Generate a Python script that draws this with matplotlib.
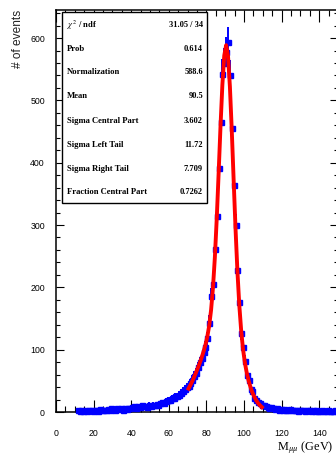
import numpy as np
import matplotlib
matplotlib.use("Agg")
import matplotlib.pyplot as plt
from matplotlib.patches import Rectangle

# ---- data ----
bin_width = 1.0
first_bin_center = 11.5
counts = [3, 2, 4, 2, 3, 1, 3, 4, 2,
          3, 4, 2, 5, 3, 4, 3, 5, 4, 6,
          5, 4, 6, 5, 7, 4, 6, 5, 7, 6,
          8, 10, 7, 9, 8, 11, 9, 10, 8, 12,
          10, 12, 11, 13, 12, 14, 16, 15, 18, 20,
          20, 23, 22, 26, 25, 28, 31, 34, 37, 40,
          41, 46, 52, 58, 63, 72, 80, 86, 96, 104,
          118, 143, 186, 205, 262, 314, 392, 466, 543, 560,
          578, 594, 541, 455, 365, 300, 228, 176, 127, 104,
          82, 60, 52, 37, 33, 23, 20, 16, 14, 12,
          11, 9, 8, 7, 8, 6, 5, 6, 4, 5, 4, 5, 3, 4, 5, 3, 4, 3, 2, 4,
          3, 3, 2, 4, 3, 2, 3, 2, 3, 2, 1, 3, 2, 2, 3, 1, 2, 2, 3, 2]

fit_x = [70.5, 71.5, 72.5, 73.5, 74.5, 75.5, 76.5, 77.5, 78.5, 79.5,
         80.5, 81.5, 82.5, 83.5, 84.5, 85.5, 86.5, 87.5, 88.5, 89.5,
         90.5, 91.5, 92.5, 93.5, 94.5, 95.5, 96.5, 97.5, 98.5, 99.5,
         100.5, 101.5, 102.5, 103.5, 104.5, 105.5, 106.5, 107.5, 108.5, 109.5]
fit_y = [37.6, 43.3, 49.6, 56.3, 63.5, 71.1, 79.0, 87.7, 97.1, 107.8,
         121.1, 138.8, 164.0, 199.6, 248.1, 310.3, 382.8, 458.2, 525.2, 571.9,
         588.6, 571.1, 522.2, 451.6, 371.6, 293.7, 225.8, 171.4, 130.4, 100.3,
         78.6, 62.2, 49.7, 39.5, 31.0, 24.3, 18.7, 14.2, 10.6, 7.7]

stat_labels = [r"$\chi^2$ / ndf", "Prob", "Normalization", "Mean",
               "Sigma Central Part", "Sigma Left Tail", "Sigma Right Tail",
               "Fraction Central Part"]
stat_values = ["31.05 / 34", "0.614", "588.6", "90.5", "3.602", "11.72",
               "7.709", "0.7262"]

x_ticks = [0, 20, 40, 60, 80, 100, 120, 140]
y_ticks = [0, 100, 200, 300, 400, 500, 600]

# ---- figure ----
W, H = 336, 458
plt.rcParams['mathtext.fontset'] = 'stix'
fig = plt.figure(figsize=(W / 100, H / 100), dpi=100)
fig.patch.set_facecolor('white')
ax = fig.add_axes([56 / W, (H - 412) / H, 282 / W, 402 / H])

xc = first_bin_center + bin_width * np.arange(len(counts))
cnt = np.array(counts, dtype=float)
eb = ax.errorbar(xc, cnt, yerr=np.sqrt(cnt), xerr=bin_width / 2,
                 fmt='s', color='#0000ff', ms=3.6, mec='#0000ff',
                 elinewidth=1.4, capsize=0, zorder=3)
eb.lines[0].set_clip_on(False)
ax.plot(fit_x, fit_y, color='#ff0000', lw=2.8, zorder=4,
        solid_joinstyle='round')

ax.set_xlim(0, 150)
ax.set_ylim(0, 645)
ax.set_xticks(x_ticks)
ax.set_yticks(y_ticks)
ax.set_xticks(np.arange(0, 151, 5), minor=True)
ax.set_yticks(np.arange(0, 645, 20), minor=True)
ax.tick_params(axis='x', which='major', direction='in', length=8.6, width=0.8,
               top=True, pad=12.5, labelsize=6.3)
ax.tick_params(axis='x', which='minor', direction='in', length=4.3, width=0.8,
               top=True)
ax.tick_params(axis='y', which='major', direction='in', length=6.0, width=0.8,
               right=True, pad=8, labelsize=6.3)
ax.tick_params(axis='y', which='minor', direction='in', length=3.0, width=0.8,
               right=True)
for lab in ax.get_xticklabels() + ax.get_yticklabels():
    lab.set_fontfamily('Liberation Sans')
for sp in ax.spines.values():
    sp.set_linewidth(1.1)

# y label
fig.text(18 / W, 1 - 10 / H, "# of events", rotation=90, ha='center', va='top',
         fontsize=8.6, family='Liberation Sans', color='#222222')
# x label
fig.text(333 / W, 1 - 448 / H, r"M$_{\mu\mu}$ (GeV)", ha='right', va='center',
         fontsize=8.8, family='Liberation Serif')

# stats box
box = Rectangle((62 / W, 1 - 203 / H), (207 - 62) / W, (203 - 12) / H,
                transform=fig.transFigure, facecolor='white',
                edgecolor='black', lw=1.0, zorder=10)
fig.patches.append(box)
row_y = [25, 49.3, 71.7, 95.7, 120.7, 144.7, 168.7, 191.7]
for lab, val, yy in zip(stat_labels, stat_values, row_y):
    fig.text(67 / W, 1 - yy / H, lab, ha='left', va='center', fontsize=6.2,
             family='Liberation Serif', weight='bold', zorder=11)
    fig.text(203 / W, 1 - yy / H, val, ha='right', va='center', fontsize=6.0,
             family='Liberation Serif', weight='bold', zorder=11)

fig.savefig("out.png", dpi=100)
